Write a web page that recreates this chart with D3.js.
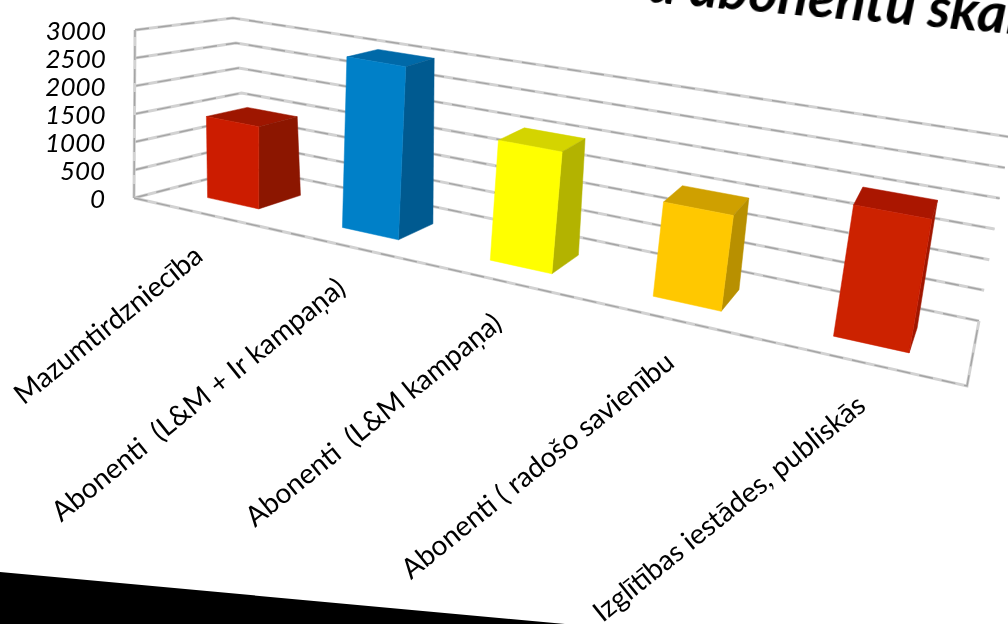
<!DOCTYPE html>
<html>
<head>
<meta charset="utf-8">
<script src="https://cdn.jsdelivr.net/npm/d3@7"></script>
<style>
  html, body { margin: 0; padding: 0; background: #fff; overflow: hidden; }
  text { font-family: Lato, "Open Sans", sans-serif; fill: #000; }
</style>
</head>
<body>
<div id="chart"></div>
<script>
const categories = [
    'Mazumtirdzniecība',
    'Abonenti  (L&M + Ir kampaņa)',
    'Abonenti  (L&M kampaņa)',
    'Abonenti ( radošo savienību',
    'Izglītības iestādes, publiskās'
];
const values = [1480, 3000, 2030, 1530, 2040];
const yTicks = [0, 500, 1000, 1500, 2000, 2500, 3000];
const frontColors = ['#cc1f00', '#0580c8', '#ffff00', '#ffc800', '#cc2000'];
const sideColors = ['#8c1400', '#045a90', '#b3b300', '#b89000', '#a01800'];
const topColors = ['#9e1800', '#0469a8', '#d4d400', '#cfa000', '#aa1500'];
const titleText = 'a abonentu skaits';

const width = 1008;
const height = 624;

const svg = d3.select('#chart')
    .append('svg')
    .attr('width', width)
    .attr('height', height)
    .attr('viewBox', `0 0 ${width} ${height}`)
    .style('display', 'block');

const defs = svg.append('defs');
defs.append('filter').attr('id', 'soft')
    .append('feGaussianBlur').attr('stdDeviation', 0.6);
defs.append('filter').attr('id', 'softer')
    .append('feGaussianBlur').attr('stdDeviation', 0.35);

// scales work in the unit box, project() puts the box on the tilted page
const xScale = d3.scaleBand().domain(categories).range([0, 1]).paddingInner(0.61).paddingOuter(0.305);
const yScale = d3.scaleLinear().domain([0, 3000]).range([0, 1]);
const depthRange = [0.3, 0.7];

const box = {
    fbl: [134, 198], ftl: [135, 30], bbl: [250, 168], btl: [233, 18],
    fbr: [967, 386], ftr: [1006, 180], bbr: [979, 321], btr: [1010, 137]
};
const perspective = -0.2175;

function project(t, h, d) {
    const u = t * (1 + perspective) / (1 + perspective * t);
    return [0, 1].map(i => {
        const fb = box.fbl[i] + (box.fbr[i] - box.fbl[i]) * u;
        const ft = box.ftl[i] + (box.ftr[i] - box.ftl[i]) * u;
        const bb = box.bbl[i] + (box.bbr[i] - box.bbl[i]) * u;
        const bt = box.btl[i] + (box.btr[i] - box.btl[i]) * u;
        const front = fb + (ft - fb) * h;
        const back = bb + (bt - bb) * h;
        return front + (back - front) * d;
    });
}

const line = d3.line();
const plot = svg.append('g').attr('filter', 'url(#soft)');

function gridLine(points) {
    plot.append('path').attr('d', line(points))
        .attr('fill', 'none').attr('stroke', '#d2d2d2').attr('stroke-width', 3);
    plot.append('path').attr('d', line(points))
        .attr('fill', 'none').attr('stroke', '#a4a4a4').attr('stroke-width', 1.4)
        .attr('stroke-dasharray', '14 9');
}

yTicks.forEach(v => {
    const h = yScale(v);
    gridLine([project(0, h, 0), project(0, h, 1), project(1, h, 1)]);
});
gridLine([project(0, 0, 0), project(0, 1, 0)]);
gridLine([project(0, 0, 0), project(1, 0, 0), project(1, 0, 1)]);

// bars, top and side faces behind the front one
const bars = plot.selectAll('g.bar')
    .data(categories)
    .join('g')
    .attr('class', 'bar');

bars.each(function(cat, i) {
    const g = d3.select(this);
    const x0 = xScale(cat);
    const x1 = x0 + xScale.bandwidth();
    const h = yScale(values[i]);
    const [d0, d1] = depthRange;
    const quad = (pts, fill) => g.append('path')
        .attr('d', line(pts) + 'Z').attr('fill', fill)
        .attr('stroke', fill).attr('stroke-width', 0.5);
    quad([project(x0, h, d0), project(x1, h, d0), project(x1, h, d1), project(x0, h, d1)], topColors[i]);
    quad([project(x1, 0, d0), project(x1, 0, d1), project(x1, h, d1), project(x1, h, d0)], sideColors[i]);
    quad([project(x0, 0, d0), project(x1, 0, d0), project(x1, h, d0), project(x0, h, d0)], frontColors[i]);
});

// page edge in the lower left corner of the photo
svg.append('path')
    .attr('d', line([[0, 572], [565, 624], [0, 624]]) + 'Z')
    .attr('fill', '#000');

const labels = svg.append('g').attr('filter', 'url(#softer)');

labels.selectAll('text.ytick')
    .data(yTicks)
    .join('text')
    .attr('class', 'ytick')
    .attr('text-anchor', 'end')
    .attr('font-size', 26)
    .attr('font-style', 'italic')
    .attr('transform', d => {
        const [px, py] = project(0, yScale(d), 0);
        return `translate(${px - 29},${py + 10})`;
    })
    .text(d => d);

labels.selectAll('text.xtick')
    .data(categories)
    .join('text')
    .attr('class', 'xtick')
    .attr('text-anchor', 'end')
    .attr('font-size', 28)
    .attr('transform', d => {
        const [px, py] = project(xScale(d) + xScale.bandwidth() / 2, 0, 0);
        return `translate(${px + 4},${py + 46}) rotate(-39)`;
    })
    .style('white-space', 'pre')
    .text(d => d);

labels.append('text')
    .attr('transform', 'translate(647,2) rotate(5)')
    .attr('font-size', 56)
    .attr('font-weight', 700)
    .attr('font-style', 'italic')
    .text(titleText);
</script>
</body>
</html>
